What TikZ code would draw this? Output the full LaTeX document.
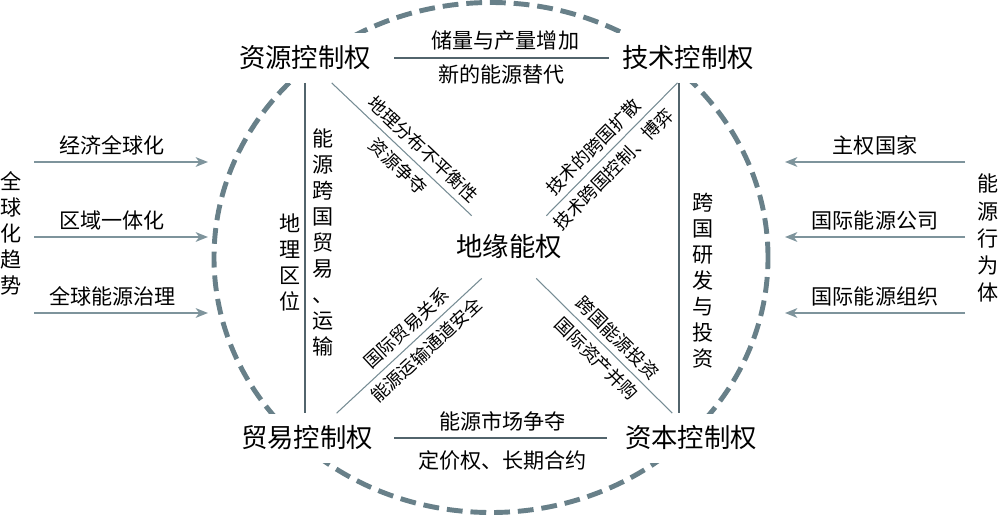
\documentclass[tikz,border=0pt]{standalone}
\usepackage{fontspec}
\setmainfont{Noto Sans CJK SC}
\usetikzlibrary{arrows.meta}
\definecolor{ringcol}{RGB}{104,128,137}
\definecolor{barcol}{RGB}{82,100,108}
\definecolor{thincol}{RGB}{118,140,148}
\definecolor{arrcol}{RGB}{126,148,156}
\tikzset{
  ctrl/.style={fill=white, inner sep=7pt, font=\fontsize{15}{18}\selectfont},
  lab/.style={text=black, font=\fontsize{12}{14.8}\selectfont},
  slab/.style={text=black, font=\fontsize{10.2}{12}\selectfont, sloped},
  vlab/.style={align=center, inner sep=1pt, font=\fontsize{12}{14.8}\selectfont},
  ring/.style={color=ringcol, line width=2.8pt, dash pattern=on 9pt off 4.5pt},
  bar/.style={color=barcol, line width=1.5pt},
  diag/.style={color=thincol, line width=0.6pt},
  arr/.style={color=arrcol, line width=1pt, -{Stealth[length=7pt,width=5.5pt,inset=2pt]}},
}
\begin{document}
\begin{tikzpicture}[x=0.2mm,y=-0.2mm]
	\useasboundingbox (0,0) rectangle (1000,517);
	\draw[ring] (491,257.5) ellipse [x radius=55.4mm, y radius=51mm];
	% four kinds of control
	\node[ctrl] (res) at (305,58) {资源控制权};
	\node[ctrl] (tech) at (688,58) {技术控制权};
	\node[ctrl] (trade) at (307,438) {贸易控制权};
	\node[ctrl] (cap) at (691,438) {资本控制权};
	\node[minimum height=12.4mm, font=\fontsize{15}{18}\selectfont] (geo) at (509,247) {地缘能权};
	% square
	\draw[bar, shorten <=6pt] (res.east) -- node[lab,above,xshift=5pt]{储量与产量增加} node[lab,below,xshift=3pt]{新的能源替代} (tech.west);
	\draw[bar, shorten <=5pt, shorten >=3pt] (trade.east) -- node[lab,above,xshift=2pt]{能源市场争夺} node[lab,below=3pt,xshift=2pt]{定价权、长期合约} (cap.west);
	\draw[bar] (res.south) -- (res.south |- trade.north);
	\draw[bar] (tech.250) -- (tech.250 |- cap.north);
	\node[vlab] (trans) at (323,242) {能\\源\\跨\\国\\贸\\易\\、\\运\\输};
	\node[vlab] (loc) at (290,262) {地\\理\\区\\位};
	\node[vlab] (rd) at (703,281) {跨\\国\\研\\发\\与\\投\\资};
	% diagonals
	\draw[diag] (res.-43) -- (geo.140) node[slab,above,pos=0.58]{地理分布不平衡性} node[slab,below,pos=0.55]{资源争夺};
	\draw[diag] (geo.40) -- (tech.247) node[slab,above,pos=0.44]{技术的跨国扩散} node[slab,below,pos=0.43]{技术跨国控制、博弈};
	\draw[diag] (trade.40) -- (geo.229) node[slab,above,pos=0.55]{国际贸易关系} node[slab,below,pos=0.55]{能源运输通道安全};
	\draw[diag] (geo.311) -- (cap.127) node[slab,above,pos=0.52]{跨国能源投资} node[slab,below,pos=0.52]{国际资产并购};
	% outside
	\node[vlab] (trend) at (11,233) {全\\球\\化\\趋\\势};
	\node[vlab, font=\fontsize{12}{15.4}\selectfont] (actor) at (988,238) {能\\源\\行\\为\\体};
	\foreach \y/\t [count=\i] in {162/经济全球化,237/区域一体化,313/全球能源治理}{
		\coordinate (gs\i) at (34,\y);
		\coordinate (ge\i) at (208,\y);
		\draw[arr] (gs\i) -- node[lab,above,pos=0.45]{\t} (ge\i);
	}
	\foreach \y/\t [count=\i] in {162/主权国家,237/国际能源公司,313/国际能源组织}{
		\coordinate (as\i) at (965,\y);
		\coordinate (ae\i) at (785,\y);
		\draw[arr] (as\i) -- node[lab,above]{\t} (ae\i);
	}
\end{tikzpicture}
\end{document}
